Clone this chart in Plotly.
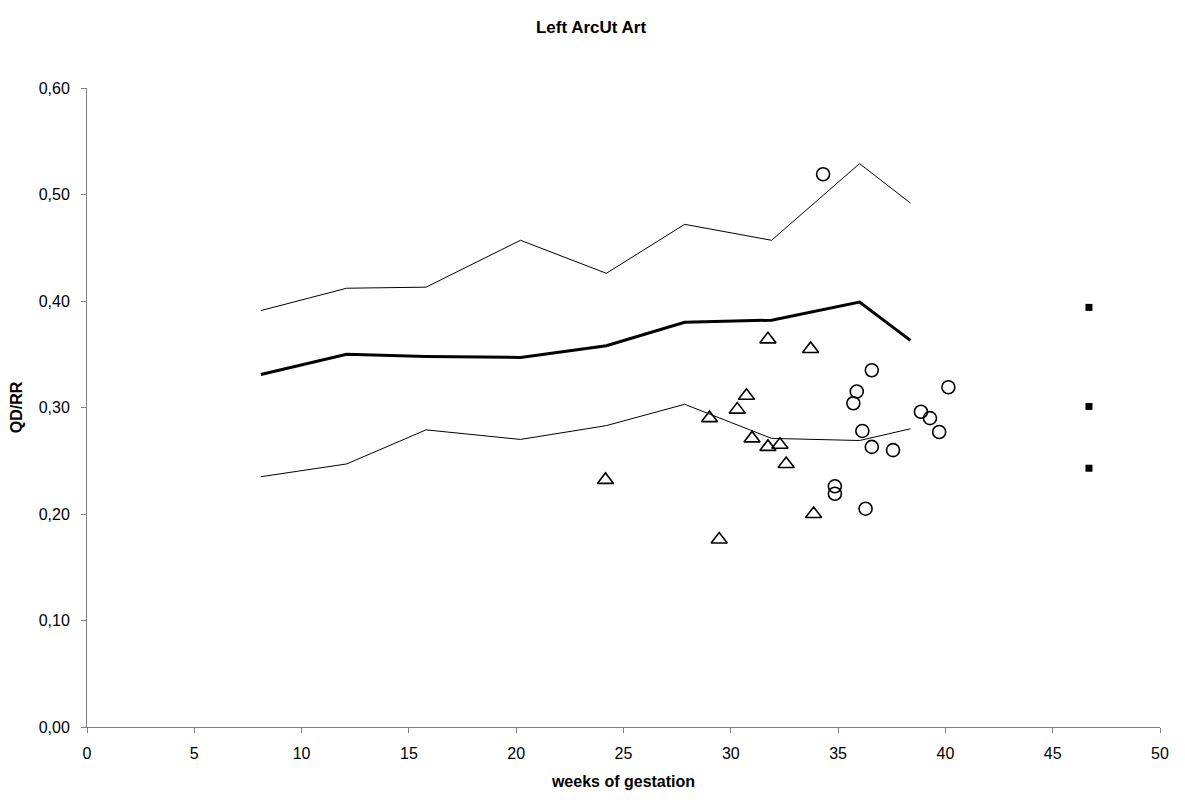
import plotly.graph_objects as go

# reference curves (weeks of gestation)
ref_weeks = [8.1, 12.1, 15.8, 20.2, 24.2, 27.85, 31.9, 36.0, 38.37]
upper = [0.391, 0.412, 0.413, 0.457, 0.426, 0.472, 0.457, 0.529, 0.492]
mean = [0.331, 0.350, 0.348, 0.347, 0.358, 0.380, 0.382, 0.399, 0.363]
lower = [0.235, 0.247, 0.279, 0.270, 0.283, 0.303, 0.271, 0.269, 0.280]

# triangles
tri_x = [31.73, 33.72, 30.73, 30.30, 29.01, 30.99, 31.73, 32.29, 32.58, 24.16, 33.86, 29.46]
tri_y = [0.364, 0.355, 0.311, 0.298, 0.290, 0.271, 0.263, 0.265, 0.247, 0.232, 0.200, 0.176]

# circles
circ_x = [34.30, 35.87, 35.71, 40.14, 36.57, 36.13, 38.86, 39.28, 39.71, 36.57, 37.56, 34.85, 34.85, 36.28]
circ_y = [0.519, 0.315, 0.304, 0.319, 0.335, 0.278, 0.296, 0.290, 0.277, 0.263, 0.260, 0.226, 0.219, 0.205]

# squares
sq_x = [46.69, 46.69, 46.69]
sq_y = [0.394, 0.301, 0.243]

x_ticks = [0, 5, 10, 15, 20, 25, 30, 35, 40, 45, 50]
y_ticks = [0.0, 0.1, 0.2, 0.3, 0.4, 0.5, 0.6]

fig = go.Figure()
fig.add_trace(go.Scatter(x=ref_weeks, y=upper, mode="lines",
                         line=dict(color="black", width=1)))
fig.add_trace(go.Scatter(x=ref_weeks, y=mean, mode="lines",
                         line=dict(color="black", width=3)))
fig.add_trace(go.Scatter(x=ref_weeks, y=lower, mode="lines",
                         line=dict(color="black", width=1)))
fig.add_trace(go.Scatter(x=tri_x, y=tri_y, mode="markers",
                         marker=dict(symbol="triangle-up-open", size=14, color="black",
                                     line=dict(width=1.6, color="black"))))
fig.add_trace(go.Scatter(x=circ_x, y=circ_y, mode="markers",
                         marker=dict(symbol="circle-open", size=13, color="black",
                                     line=dict(width=1.6, color="black"))))
fig.add_trace(go.Scatter(x=sq_x, y=sq_y, mode="markers",
                         marker=dict(symbol="square", size=7, color="black")))

font_family = "Liberation Sans, Arial, sans-serif"
W, H = 1177, 802  # page body adds an 8px offset
fig.update_layout(
    width=W, height=H,
    paper_bgcolor="white", plot_bgcolor="white",
    showlegend=False,
    separators=",.",
    margin=dict(l=79, r=25, t=80, b=83, pad=0, autoexpand=False),
    font=dict(family=font_family, color="black", size=16),
    title=dict(text="<b>Left ArcUt Art</b>", x=(591 - 8) / W, xanchor="center",
               y=1 - 19 / H, yanchor="middle",
               font=dict(family=font_family, size=17, color="black")),
    xaxis=dict(range=[0, 50], tickvals=x_ticks, ticks="outside", ticklen=5,
               tickcolor="#808080", linecolor="#808080", linewidth=1, showline=True,
               showgrid=False, zeroline=False, mirror=False, automargin=False,
               tickfont=dict(size=16), ticklabelstandoff=7,
               title=dict(text="<b>weeks of gestation</b>", font=dict(size=16), standoff=14)),
    yaxis=dict(range=[0, 0.6], tickvals=y_ticks, tickformat=".2f", ticks="outside", ticklen=5,
               tickcolor="#808080", linecolor="#808080", linewidth=1, showline=True,
               showgrid=False, zeroline=False, automargin=False,
               tickfont=dict(size=16), ticklabelstandoff=8,
               title=dict(text="<b>QD/RR</b>", font=dict(size=16), standoff=14)),
)

fig.write_html("out.html")
